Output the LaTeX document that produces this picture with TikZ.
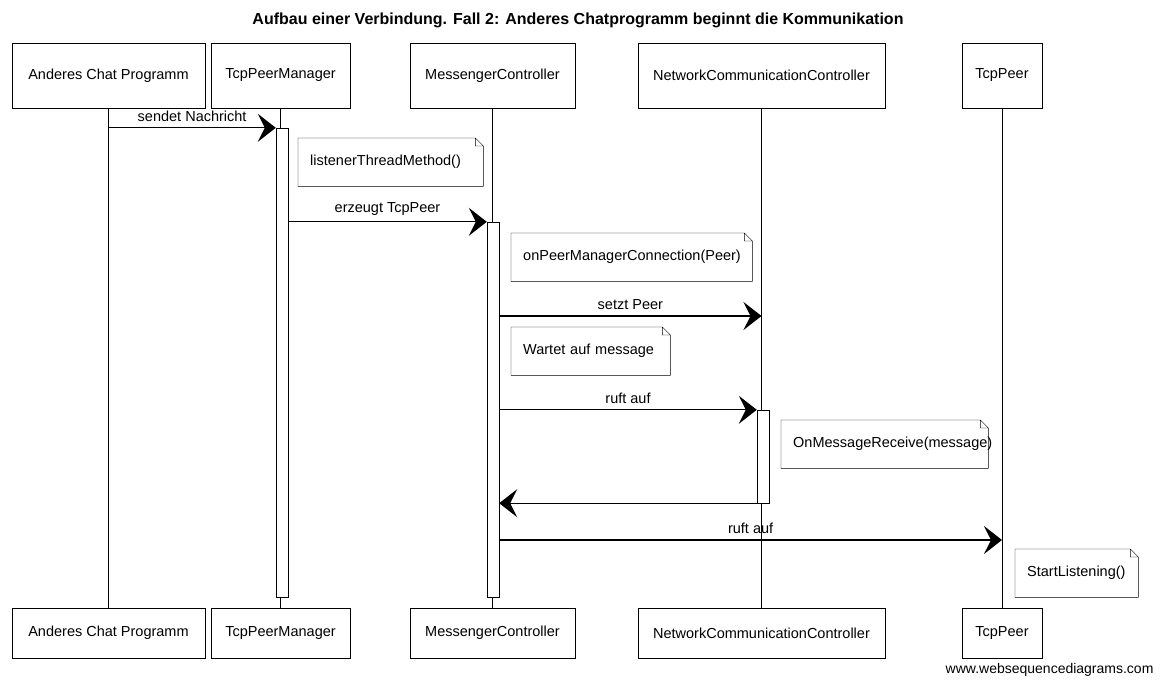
\documentclass[tikz,border=0pt]{standalone}
\usepackage{fontspec}
\setmainfont{Liberation Sans}
\usetikzlibrary{arrows.meta}

\begin{document}
\begin{tikzpicture}[x=1pt, y=-1pt, >={Stealth[length=18pt, width=28pt, inset=7pt]}, font=\fontsize{14.5}{17}\selectfont,
  part/.style={draw, fill=white, minimum height=65pt},
  partb/.style={draw, fill=white, minimum height=50pt},
  act/.style={draw, fill=white, minimum width=12pt, inner sep=0pt},
  note/.style={anchor=north west, minimum height=48pt, inner xsep=12pt, text width=#1, align=left},
  msg/.style={->, line width=1.2pt}]

\useasboundingbox (0,0) rectangle (1160,681);

\node[font=\fontsize{16}{18}\selectfont\bfseries] (title) at (578,20) {Aufbau einer Verbindung. Fall 2: Anderes Chatprogramm beginnt die Kommunikation};

% participants, top and bottom
\node[part, minimum width=193pt] (acp1) at (108.5,75.5) {Anderes Chat Programm};
\node[part, minimum width=139pt] (tpm1) at (280.5,75.5) {TcpPeerManager};
\node[part, minimum width=165pt] (mc1) at (492.5,75.5) {MessengerController};
\node[part, minimum width=247pt] (ncc1) at (761.5,75.5) {NetworkCommunicationController};
\node[part, minimum width=80pt] (tp1) at (1002,75.5) {TcpPeer};

\node[partb, minimum width=193pt] (acp2) at (108.5,633) {Anderes Chat Programm};
\node[partb, minimum width=139pt] (tpm2) at (280.5,633) {TcpPeerManager};
\node[partb, minimum width=165pt] (mc2) at (492.5,633) {MessengerController};
\node[partb, minimum width=247pt] (ncc2) at (761.5,633) {NetworkCommunicationController};
\node[partb, minimum width=80pt] (tp2) at (1002,633) {TcpPeer};

\foreach \p in {acp,tpm,mc,ncc,tp}
  \draw (\p1.south) -- (\p2.north); %lifelines

% activations
\node[act, minimum height=469pt] (tpmact) at (282,362.5) {};
\node[act, minimum height=375pt] (mcact) at (493,409.5) {};
\node[act, minimum height=93pt] (nccact) at (763,456.5) {};

% notes
\node[note=161pt] (n1) at (298,138) {listenerThreadMethod()};
\node[note=217pt] (n2) at (511,233) {onPeerManagerConnection(Peer)};
\node[note=135pt] (n3) at (511,327) {Wartet auf message};
\node[note=183pt] (n4) at (781,420) {OnMessageReceive(message)};
\node[note=99pt] (n5) at (1015,549) {StartListening()};

\foreach \n in {n1,n2,n3,n4,n5}
  \draw (\n.north west) -- ([xshift=-8pt]\n.north east) -- ([yshift=-8pt]\n.north east) -- (\n.south east) -- (\n.south west) -- cycle
        ([xshift=-8pt]\n.north east) |- ([yshift=-8pt]\n.north east);

% messages
\coordinate (y3) at (0,316);
\coordinate (y6) at (0,540);

\draw[msg] (acp1.south |- tpmact.north) -- (tpmact.north west)node[black, above, midway, yshift=2]{sendet Nachricht};
\draw[msg] (tpmact.east |- mcact.north) -- (mcact.north west)node[black, above, midway, yshift=2]{erzeugt TcpPeer};
\draw[msg] (mcact.east |- y3) -- (ncc1.south |- y3)node[black, above, midway, yshift=2]{setzt Peer};
\draw[msg] (mcact.east |- nccact.north) -- (nccact.north west)node[black, above, midway, yshift=2]{ruft auf};
\draw[msg] (nccact.south west) -- (mcact.east |- nccact.south); %return
\draw[msg] (mcact.east |- y6) -- (tp1.south |- y6)node[black, above, midway, yshift=2]{ruft auf};

\node[anchor=east, font=\fontsize{14}{16}\selectfont] (wsd) at (1157,670) {www.websequencediagrams.com};

\end{tikzpicture}
\end{document}
